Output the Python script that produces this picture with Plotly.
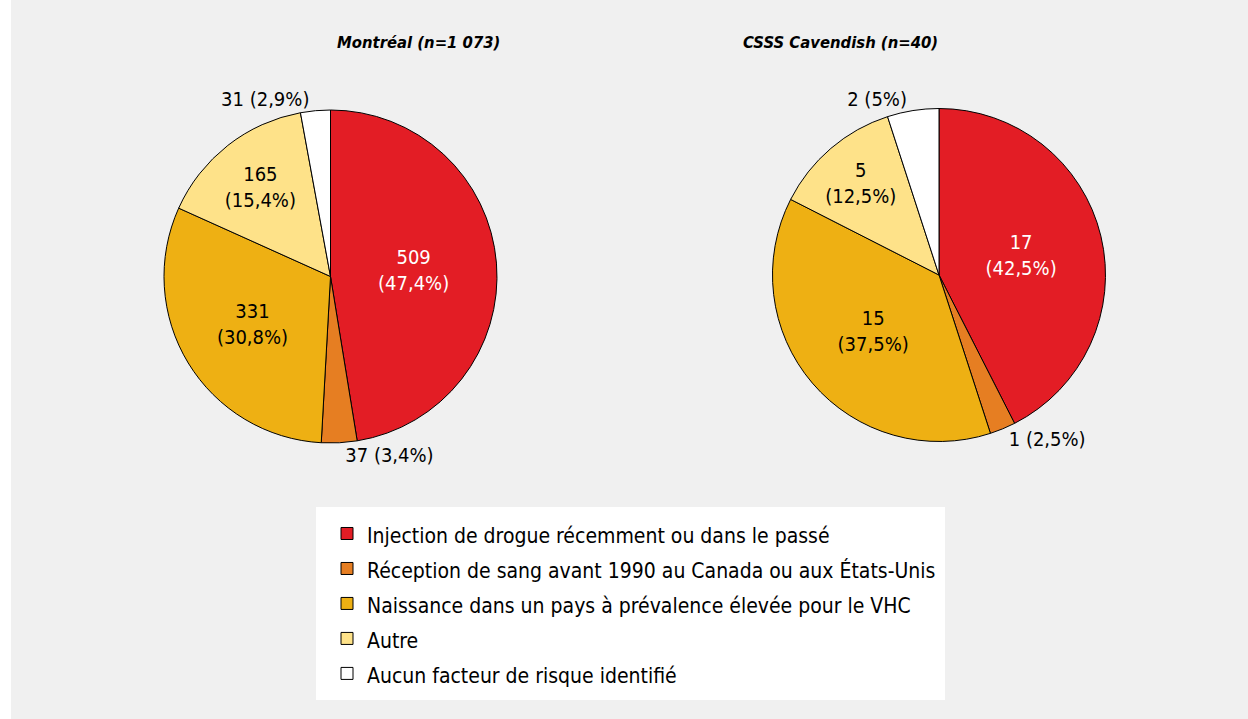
import plotly.graph_objects as go

# risk factor categories (legend order)
categories = [
    "Injection de drogue récemment ou dans le passé",
    "Réception de sang avant 1990 au Canada ou aux États-Unis",
    "Naissance dans un pays à prévalence élevée pour le VHC",
    "Autre",
    "Aucun facteur de risque identifié",
]
colors = ["#e31d25", "#e67e22", "#eeb013", "#fee289", "#ffffff"]

titles = ["Montréal (n=1 073)", "CSSS Cavendish (n=40)"]
montreal_counts = [509, 37, 331, 165, 31]
montreal_pct = ["47,4", "3,4", "30,8", "15,4", "2,9"]
cavendish_counts = [17, 1, 15, 5, 2]
cavendish_pct = ["42,5", "2,5", "37,5", "12,5", "5"]

positions = ["inside", "outside", "inside", "inside", "outside"]
text_colors = ["white", "black", "black", "black", "black"]

FONT = "DejaVu Sans Condensed, Liberation Sans Narrow, Roboto, sans-serif"
W, H = 1237, 719   # page has an 11px white strip on the left


def labels_for(counts, pct):
    out = []
    for c, p, pos in zip(counts, pct, positions):
        if pos == "inside":
            out.append(f"{c}<br>({p}%)")
        else:
            out.append(f"{c} ({p}%)")
    return out


def dom(cx, cy, r):
    return dict(x=[(cx - r) / W, (cx + r) / W],
                y=[1 - (cy + r) / H, 1 - (cy - r) / H])


legend_labels = [f'<span style="font-size:21px">{c}</span>' for c in categories]

fig = go.Figure()
for counts, pct, d in [(montreal_counts, montreal_pct, dom(319.5, 276.5, 166.5)),
                       (cavendish_counts, cavendish_pct, dom(928, 275, 166.5))]:
    fig.add_trace(go.Pie(
        labels=legend_labels,
        values=counts,
        text=labels_for(counts, pct),
        textinfo="text",
        textposition=positions,
        insidetextorientation="horizontal",
        textfont=dict(family=FONT, size=20, color=text_colors),
        marker=dict(colors=colors, line=dict(color="black", width=1)),
        sort=False,
        direction="clockwise",
        rotation=0,
        domain=d,
        hoverinfo="label+value",
    ))

for t, cx in zip(titles, [324, 929]):
    fig.add_annotation(text=t, x=cx / W, y=1 - 43 / H, xref="paper", yref="paper",
                       yanchor="middle", showarrow=False,
                       font=dict(family=FONT, size=16.5, color="black",
                                 weight="bold", style="italic"))

fig.update_layout(
    width=W, height=H,
    margin=dict(l=0, r=0, t=0, b=0),
    paper_bgcolor="#f0f0f0",
    plot_bgcolor="#f0f0f0",
    font=dict(family=FONT, color="black"),
    legend=dict(x=305 / W, y=1 - 507 / H, xanchor="left", yanchor="top",
                bgcolor="white", bordercolor="white", borderwidth=4,
                indentation=7,
                font=dict(family=FONT, size=24.6, color="black")),
)

fig.write_html("out.html",
               post_script="document.body.style.margin='0 0 0 11px';"
                           "document.body.style.background='white';")
